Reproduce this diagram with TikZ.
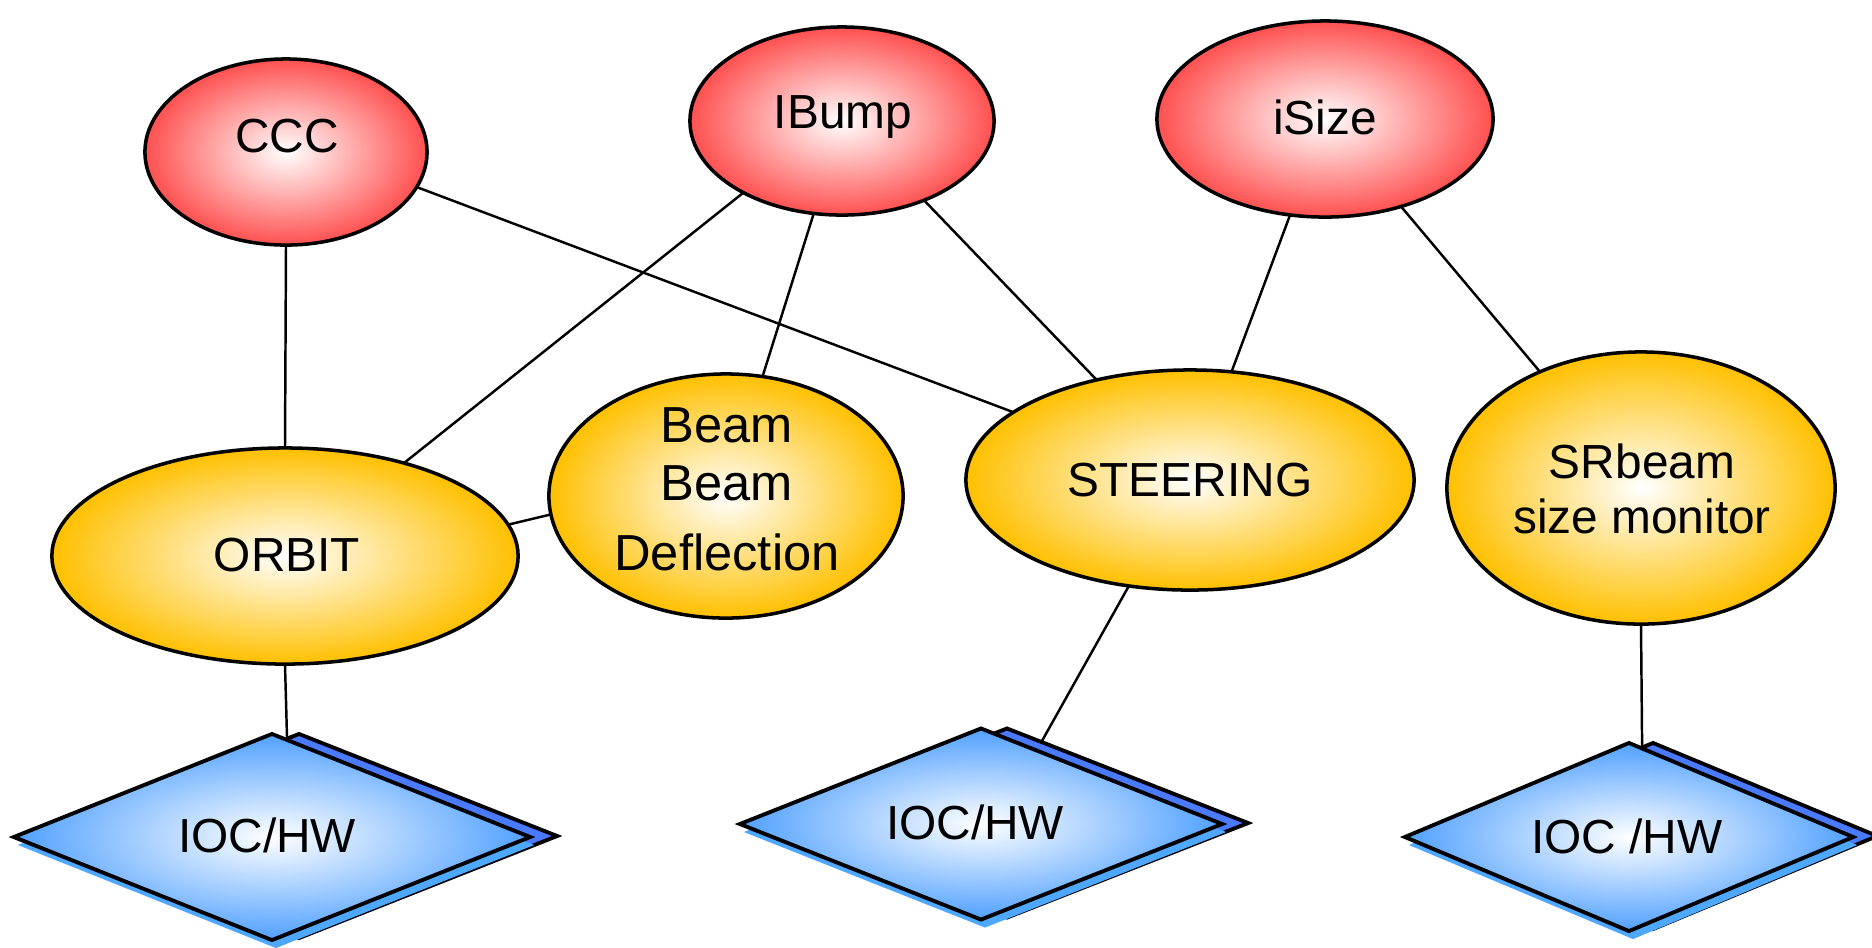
\documentclass[tikz,border=0pt]{standalone}
\usepackage{fontspec}
\setmainfont{Liberation Sans}
\usetikzlibrary{shapes.geometric}

\definecolor{redrim}{HTML}{FF5050}
\definecolor{goldrim}{HTML}{FFC000}
\definecolor{bluerim}{HTML}{50A0FF}
\definecolor{blueback}{HTML}{4A7AFF}
\definecolor{blueshadow}{HTML}{4FA8FF}

\begin{document}
\begin{tikzpicture}[x=0.01cm,y=-0.01cm,
  redell/.style={ellipse, draw=black, line width=1pt, inner sep=0pt, outer sep=0pt,
    inner color=white, outer color=redrim},
  goldell/.style={ellipse, draw=black, line width=1pt, inner sep=0pt, outer sep=0pt,
    inner color=white, outer color=goldrim},
  hwback/.style={diamond, draw=black, line width=1.1pt, fill=blueback, inner sep=0pt, outer sep=0pt},
  hwshadow/.style={diamond, fill=blueshadow, inner sep=0pt, outer sep=0pt},
  hwfront/.style={diamond, draw=black, line width=1.1pt, inner sep=0pt, outer sep=0pt,
    inner color=white, outer color=bluerim},
  txt/.style={anchor=base, inner sep=0pt, font=\fontsize{13.6}{16}\selectfont},
  bigtxt/.style={txt, font=\fontsize{14.4}{17}\selectfont},
  wire/.style={line width=0.7pt}
]
\useasboundingbox (0,0) rectangle (1872,947);

% top row: clients
\node[redell, minimum width=2.82cm, minimum height=1.86cm] (ccc) at (286,152) {};
\node[redell, minimum width=3.04cm, minimum height=1.88cm] (ibump) at (842,121) {};
\node[redell, minimum width=3.36cm, minimum height=1.96cm] (isize) at (1325,119) {};

% middle row: applications
\node[goldell, minimum width=4.66cm, minimum height=2.16cm] (orbit) at (285,556) {};
\node[goldell, minimum width=3.54cm, minimum height=2.44cm] (bbd) at (726,496) {};
\node[goldell, minimum width=4.48cm, minimum height=2.20cm] (steer) at (1190,480) {};
\node[goldell, minimum width=3.88cm, minimum height=2.72cm] (srb) at (1641,488) {};

% bottom row: IOC / hardware, stacked diamonds
\node[hwback, minimum width=5.16cm, minimum height=2.04cm] (ioca-back) at (299,836) {};
\node[hwshadow, minimum width=5.16cm, minimum height=2.06cm] (ioca-shadow) at (276,845) {};
\node[hwfront, minimum width=5.16cm, minimum height=2.06cm] (ioca) at (272,837) {};

\node[hwback, minimum width=4.82cm, minimum height=1.89cm] (iocb-back) at (1007,823) {};
\node[hwshadow, minimum width=4.82cm, minimum height=1.91cm] (iocb-shadow) at (985,832) {};
\node[hwfront, minimum width=4.82cm, minimum height=1.91cm] (iocb) at (981,824) {};

\node[hwback, minimum width=4.48cm, minimum height=1.86cm] (iocc-back) at (1653,836) {};
\node[hwshadow, minimum width=4.48cm, minimum height=1.88cm] (iocc-shadow) at (1633,845) {};
\node[hwfront, minimum width=4.48cm, minimum height=1.88cm] (iocc) at (1629,837) {};

% labels
\node[txt] (ccc-l) at (287,152) {CCC};
\node[txt] (ibump-l) at (843,128) {IBump};
\node[txt] (isize-l) at (1325,134) {iSize};
\node[txt] (orbit-l) at (287,571) {ORBIT};
\node[bigtxt] (bbd-l1) at (727,442) {Beam};
\node[bigtxt] (bbd-l2) at (727,500) {Beam};
\node[bigtxt] (bbd-l3) at (727,570) {Deflection};
\node[txt] (steer-l) at (1190,496) {STEERING};
\node[txt] (srb-l1) at (1642,478) {SRbeam};
\node[txt] (srb-l2) at (1642,533) {size monitor};
\node[txt] (ioca-l) at (267,852) {IOC/HW};
\node[txt] (iocb-l) at (975,839) {IOC/HW};
\node[txt] (iocc-l) at (1627,853) {IOC /HW};

% connections
\draw[wire] (ccc.south) -- (orbit.north);
\draw[wire] (ccc.-15) -- (steer.159);
\draw[wire] (ibump.-144.5) -- (orbit.38.8);
\draw[wire] (ibump.-107.7) -- (bbd.73.2);
\draw[wire] (ibump.-44.6) -- (steer.133.5);
\draw[wire] (isize.-110) -- (steer.69.4);
\draw[wire] (isize.-49.8) -- (srb.131.3);
\draw[wire] (orbit.8.3) -- (bbd.186.6);
\draw[wire] (orbit.south) -- (ioca-back.97.5);
\draw[wire] (steer.-120) -- (iocb-back.67);
\draw[wire] (srb.south) -- (iocc-back.97);
\end{tikzpicture}
\end{document}
